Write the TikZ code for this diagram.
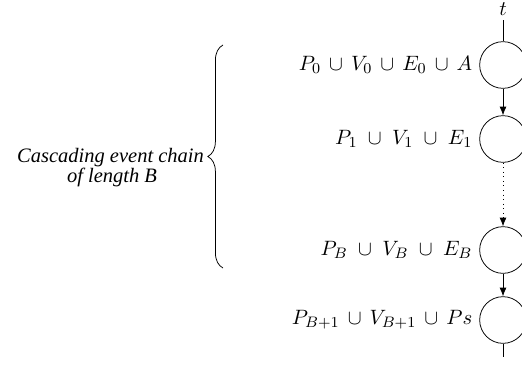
\documentclass[tikz,border=0pt]{standalone}
\usepackage{fontspec}
\setmainfont{Liberation Serif}
\usetikzlibrary{decorations.pathreplacing,arrows.meta}
\begin{document}
\begin{tikzpicture}[x=0.527pt,y=-0.527pt,
  state/.style={circle,draw,minimum size=24.6pt,inner sep=0pt},
  lab/.style={anchor=east,inner sep=3.5pt,font=\fontsize{11.1}{13}\selectfont},
  note/.style={anchor=base,inner sep=0pt,font=\itshape\fontsize{10.8}{13}\selectfont},
  arr/.style={-{Latex[length=4.5pt,width=3.6pt]}}]
\useasboundingbox (0,0) rectangle (522,370);
\node[state] (c0) at (503,65) {};
\node[state] (c1) at (503,139) {};
\node[state] (c2) at (503,250) {};
\node[state] (c3) at (503,320) {};
\node[font=\fontsize{11.1}{13}\selectfont] (t) at (503,9) {$t$};
\coordinate (tt) at (503,20);
\coordinate (bot) at (503,357);
\draw (tt) -- (c0);
\draw[arr] (c0) -- (c1);
\draw[arr,dotted] (c1) -- (c2);
\draw[arr] (c2) -- (c3);
\draw (c3) -- (bot);
\node[lab] (l0) at (c0.west) {$P_0 \,\cup\, V_0 \,\cup\, E_0 \,\cup\, A$};
\node[lab] (l1) at (c1.west) {$P_1 \;\cup\; V_1 \;\cup\; E_1$};
\node[lab] (l2) at (c2.west) {$P_B \;\cup\; V_B \;\cup\; E_B$};
\node[lab] (l3) at (c3.west) {$P_{B+1} \,\cup\, V_{B+1} \,\cup\, Ps$};
\coordinate (bb) at (223,268);
\coordinate (bt) at (223,45);
\draw[decorate,decoration={brace,amplitude=8pt}] (bb) -- (bt);
\node[note] (txt1) at (110.5,162) {Cascading event chain};
\node[note] (txt2) at (112,182) {of length B};
\end{tikzpicture}
\end{document}
